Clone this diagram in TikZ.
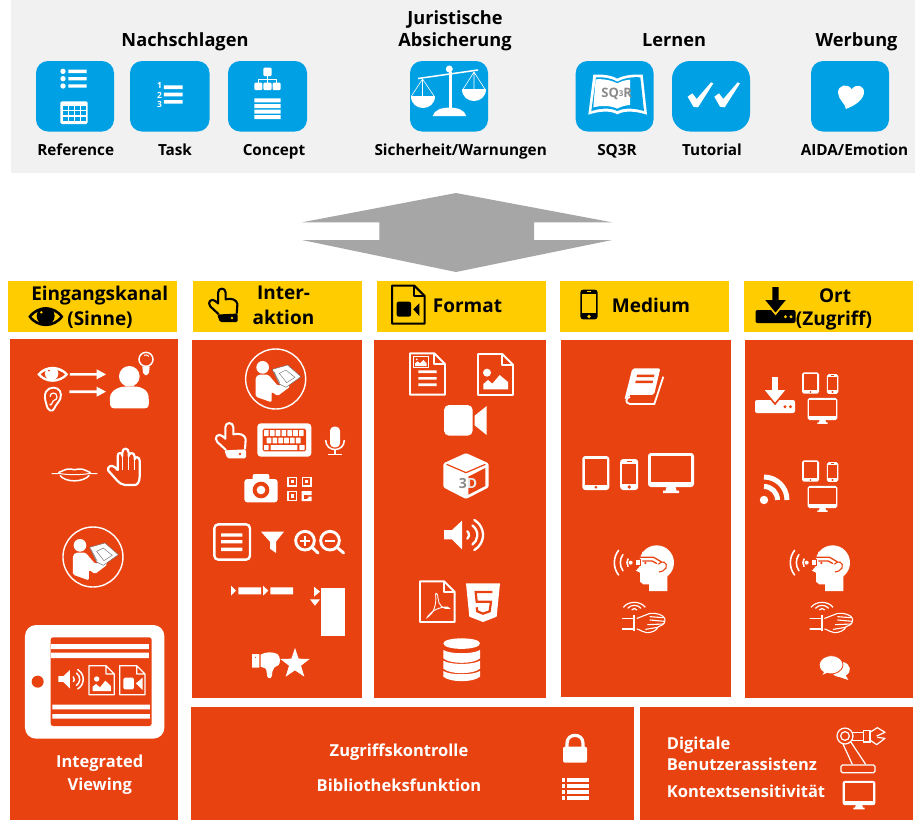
\documentclass[tikz,border=0pt]{standalone}
\usepackage{fontspec}
\setmainfont{Open Sans}
\definecolor{orangeb}{HTML}{E84211}
\definecolor{yellowh}{HTML}{FFCC00}
\definecolor{blueb}{HTML}{00A1E4}
\definecolor{grayb}{HTML}{F1F1F1}
\definecolor{grayarrow}{HTML}{A6A6A6}
\definecolor{graytxt}{HTML}{8A8A8A}
\colorlet{icfg}{white}
\colorlet{icbg}{orangeb}
\tikzset{
  lbl/.style={inner sep=0pt,anchor=base,font=\fontsize{15.3}{15.3}\selectfont\bfseries,text=black},
  ttl/.style={lbl,font=\fontsize{18.2}{18.2}\selectfont\bfseries},
  hdr/.style={lbl,font=\fontsize{19}{19}\selectfont\bfseries},
  wht/.style={lbl,font=\fontsize{16.5}{16.5}\selectfont\bfseries,text=white},
  panel/.style={fill=orangeb},
  hbar/.style={fill=yellowh},
  bluebox/.style={fill=blueb,rounded corners=#1},
  fg/.style={fill=icfg},
  bg/.style={fill=icbg},
  ln/.style={draw=icfg,line width=#1,fill=none},
  bl/.style={draw=icbg,line width=#1,fill=none},
}
\newcommand{\zb}[3][1]{\begin{scope}[shift={(#2,#3)},scale=#1/3]}
\newcommand{\ze}{\end{scope}}
% devices, local px about the centre
\newcommand{\icPhone}[3]{\begin{scope}[shift={(#1,#2)},scale=#3]
 \fill[fg,rounded corners=#3*3pt] (-9,-15.5) rectangle (9,15.5);
 \fill[bg] (-6.8,-11) rectangle (6.8,9);
 \fill[bg] (0,12.5) circle (1.9);
 \fill[bg] (-2.5,-13.6) rectangle (2.5,-12.8);
\end{scope}}
\newcommand{\icTablet}[3]{\begin{scope}[shift={(#1,#2)},scale=#3]
 \fill[fg,rounded corners=#3*3pt] (-13.5,-17) rectangle (13.5,17);
 \fill[bg] (-11,-14.2) rectangle (11,11.5);
 \fill[bg] (0,14.2) circle (1.5);
\end{scope}}
\newcommand{\icMon}[3]{\begin{scope}[shift={(#1,#2)},scale=#3]
 \fill[fg,rounded corners=#3*3pt] (-23,-17) rectangle (23,17);
 \fill[bg] (-20.2,-14.2) rectangle (20.2,11.5);
 \fill[fg] (-4.5,17) -- (4.5,17) -- (5.5,20.5) -- (8,20.5) -- (8,23) -- (-8,23) -- (-8,20.5) -- (-5.5,20.5) -- cycle;
\end{scope}}
\newcommand{\icTray}[2]{\begin{scope}[shift={(#1,#2)}]
 \fill[fg,rounded corners=2pt] (-20,5.5) rectangle (20,18.5);
 \filldraw[fill=icfg,draw=icbg,line width=1.6pt,line join=miter] (-4,-18.5) -- (4,-18.5) -- (4,-5.5) -- (12.3,-5.5) -- (0,9.5) -- (-12.3,-5.5) -- (-4,-5.5) -- cycle;
 \fill[bg] (10,12.2) circle (1.6) (15.5,12.2) circle (1.6);
\end{scope}}
\newcommand{\icDoc}[4]{%
 \draw[ln=1.9pt,line join=round] (#1,#2) -- ({#3-32},#2) -- (#3,{#2+32}) -- (#3,#4) -- (#1,#4) -- cycle;
 \draw[ln=1.9pt,line join=round] ({#3-32},#2) -- ({#3-32},{#2+32}) -- (#3,{#2+32});}
\newcommand{\icSpeaker}[4][2.3pt]{\zb[#2]{#3}{#4}
 \fill[fg] (222,750) -- (246,750) -- (276,722) -- (276,808) -- (246,778) -- (222,778) -- cycle;
 \draw[ln=#1,line cap=round] ([shift={(-48:15)}]282,765) arc[start angle=-48,end angle=48,radius=15];
 \draw[ln=#1,line cap=round] ([shift={(-55:35)}]287,765) arc[start angle=-55,end angle=55,radius=35];
 \draw[ln=#1,line cap=round] ([shift={(-60:52)}]287,765) arc[start angle=-60,end angle=60,radius=52];
\ze}
\newcommand{\icReader}[2]{\zb{#1}{#2}
 \draw[ln=1.4pt] (257,297) circle (90);
 \fill[fg] (218,262) circle (19);
 \fill[fg,rounded corners=1.5pt] (197,292) -- (205,284) -- (235,284) -- (264,318) -- (292,305) -- (300,320) -- (263,348) -- (245,335) -- (245,367) -- (197,350) -- cycle;
 \filldraw[fill=icfg,draw=black!60,line width=.4pt] (247,268) -- (293,255) -- (333,290) -- (288,322) -- (268,312) -- cycle;
 \draw[draw=black!60,line width=.4pt] (268,280) -- (288,270) -- (315,292) -- (290,308) -- cycle (252,275) -- (270,310);
\ze}
\newcommand{\icHead}[2]{\zb{#1}{#2}
 \fill[fg] (305,848) circle (52);
 \fill[fg] (262,815) -- (258,855) -- (243,872) -- (255,878) -- (255,905) -- (265,913) -- (282,913) -- (282,933) -- (337,933) -- (337,880) -- (340,848) -- cycle;
 \draw[bl=1.3pt,line join=round] (252,832) -- (296,832) -- (320,846);
 \draw[bl=1.3pt,line join=round] (262,843) -- (292,843) -- (306,851);
 \filldraw[fill=icfg,draw=icbg,line width=.8pt] (240,838) rectangle (257,856);
 \fill[bg] (271,849) circle (4);
 \draw[bl=1.1pt] (310,853) .. controls (320,838) and (340,848) .. (333,864) .. controls (328,873) and (320,875) .. (312,876);
 \fill[fg] (227,848) circle (6);
 \draw[ln=1.6pt,line cap=round] ([shift={(150:22)}]238,848) arc[start angle=150,end angle=210,radius=22];
 \draw[ln=1.6pt,line cap=round] ([shift={(145:42)}]238,848) arc[start angle=145,end angle=215,radius=42];
 \draw[ln=1.6pt,line cap=round] ([shift={(142:60)}]238,848) arc[start angle=142,end angle=218,radius=60];
\ze}
\newcommand{\icWrist}[2]{\zb{#1}{#2}
 \begin{scope}[ln=1.1pt,line cap=round,line join=round]
 \draw (202,1015) -- (238,1015) (202,1047) -- (238,1047);
 \draw (246,1015) -- (285,1000) .. controls (305,998) and (325,1005) .. (329,1015) .. controls (332,1025) and (328,1035) .. (310,1040) .. controls (305,1052) and (290,1058) .. (275,1058) .. controls (265,1058) and (258,1050) .. (246,1047);
 \draw (285,1010) -- (325,1013) (285,1020) -- (329,1024) (278,1034) -- (325,1032) (272,1048) -- (308,1042);
 \end{scope}
 \draw[ln=2pt] (238,1005) -- (238,1052);
 \draw[ln=1.2pt] (230,990) .. controls (234,984) and (242,984) .. (246,990);
 \draw[ln=1.2pt] (218,985) .. controls (228,973) and (248,973) .. (258,985);
 \draw[ln=1.2pt] (205,982) .. controls (220,962) and (256,962) .. (271,982);
\ze}
\newcommand{\icPoint}[3][1]{\zb[#1]{#2}{#3}
 \draw[ln=2.1pt,line join=round] (108,510) -- (82,486) .. controls (70,472) and (85,458) .. (97,468) -- (106,476) -- (106,442) .. controls (106,425) and (130,425) .. (130,442) -- (130,463) .. controls (150,458) and (165,465) .. (167,478) -- (165,508);
 \fill[fg,rounded corners=1.5pt] (103,511) -- (168,508) -- (168,535) -- (112,535) -- cycle;
 \fill[bg] (150,522) circle (4);
\ze}
\begin{document}
\begin{tikzpicture}[x=1pt,y=-1pt]
\useasboundingbox (0,0) rectangle (915,820);
\fill[white] (0,0) rectangle (915,820);
% top band
\fill[grayb] (11,0) rectangle (915,173);
\foreach \a/\b/\r in {36/114/12pt,130/209.5/12pt,228/307/12pt,410/488/12pt,575.7/653.5/12pt,672/750/18pt,811/889/12pt}
  \fill[bluebox=\r] (\a,61) rectangle (\b,131.5);
\node[ttl] (tNach) at (185,46.5) {Nachschlagen};
\node[ttl] (tJur1) at (455,24.5) {Juristische};
\node[ttl] (tJur2) at (455,46.5) {Absicherung};
\node[ttl] (tLern) at (674,46.5) {Lernen};
\node[ttl] (tWerb) at (856.5,46.5) {Werbung};
\node[lbl] (lRef) at (75.7,155) {Reference};
\node[lbl] (lTask) at (175,155) {Task};
\node[lbl] (lConc) at (274,155) {Concept};
\node[lbl] (lSich) at (460.7,155) {Sicherheit/Warnungen};
\node[lbl] (lSq) at (617,155) {SQ3R};
\node[lbl] (lTut) at (712,155) {Tutorial};
\node[lbl] (lAida) at (854.5,155) {AIDA/Emotion};
% Reference icon
\zb{0}{0}
 \fill[white] (189,214) circle (8) (189,236) circle (8) (189,258) circle (8);
 \fill[white] (205,209) rectangle (260,219) (205,231) rectangle (260,241) (205,253) rectangle (260,263);
 \fill[white,rounded corners=1.5pt] (181,304) rectangle (263,372);
 \foreach \i in {0,1,2,3} \foreach \j in {0,1,2} \fill[blueb] ({188+\i*18.5},{317+\j*17}) rectangle ({203+\i*18.5},{329+\j*17});
% Task icon
 \fill[white] (492,256) rectangle (548,267) (492,278) rectangle (548,289) (492,300) rectangle (548,311);
 \node[inner sep=0pt,text=white,font=\fontsize{8.5}{8.5}\selectfont\bfseries] (n1) at (479,257) {1};
 \node[inner sep=0pt,text=white,font=\fontsize{8.5}{8.5}\selectfont\bfseries] (n2) at (479,285) {2};
 \node[inner sep=0pt,text=white,font=\fontsize{8.5}{8.5}\selectfont\bfseries] (n3) at (479,312) {3};
% Concept icon
 \fill[white,rounded corners=1pt] (790,203) rectangle (815,228) (763,248) rectangle (787,270) (790,248) rectangle (815,270) (818,248) rectangle (842,270);
 \draw[white,line width=.9pt] (802,228) -- (802,240) (775,250) -- (775,238) -- (830,238) -- (830,250) (802,240) -- (802,250);
 \fill[white] (763,295) rectangle (842,307) (763,312) rectangle (842,324) (763,329) rectangle (842,341) (763,345) rectangle (842,357);
\ze
% scales
\begin{scope}
 \fill[white] (449.3,69) circle (3.5);
 \fill[white] (449,72) rectangle (452,109);
 \draw[white,line width=1.5pt] (418,78.5) -- (478,70);
 \fill[white] (432.7,116) .. controls (434,110) and (442,107.5) .. (449.5,107.5) .. controls (457,107.5) and (465,110) .. (466.2,116) -- cycle;
 \fill[white] (410.7,96) .. controls (410.7,112) and (434.7,112) .. (434.7,96) -- cycle;
 \fill[white] (462,89.3) .. controls (462,105.3) and (486,105.3) .. (486,89.3) -- cycle;
 \draw[white,line width=.6pt] (411.5,96) -- (422.5,79) -- (434,96) (422.5,79) -- (422.5,96) (463,89.3) -- (474,72) -- (485,89.3) (474,72) -- (474,89.3);
\end{scope}
% SQ3R, Tutorial, heart
\zb{455}{0}
 \fill[white] (415,224) .. controls (440,222) and (470,226) .. (487,236) .. controls (505,226) and (535,222) .. (563,224) -- (576,344) .. controls (545,334) and (510,330) .. (487,343) .. controls (465,330) and (430,334) .. (400,344) -- cycle;
 \fill[blueb] (423,232) .. controls (445,230) and (470,235) .. (487,245) .. controls (505,235) and (530,230) .. (556,232) -- (567,333) .. controls (540,325) and (510,322) .. (487,333) .. controls (465,322) and (435,325) .. (409,333) -- cycle;
 \fill[white] (422,238) .. controls (445,236) and (470,241) .. (487,250) .. controls (500,243) and (512,240) .. (525,239) -- (525,315) .. controls (510,316) and (497,320) .. (487,326) .. controls (465,316) and (440,316) .. (415,322) -- cycle;
 \node[inner sep=0pt,text=graytxt,font=\fontsize{13}{13}\selectfont\bfseries] (sqtxt) at (485,283) {SQ\raisebox{.25ex}{\fontsize{8}{8}\selectfont 3}R};
 \foreach \d in {0,80}
  \fill[white] ({698+\d},290) -- ({712+\d},280) -- ({725+\d},297) -- ({768+\d},247) -- ({775+\d},250) -- ({729+\d},322) -- ({715+\d},320) -- cycle;
 \fill[white] (1172,324) .. controls (1172,312) and (1150,300) .. (1149,278) .. controls (1149,255) and (1178,248) .. (1190,268) .. controls (1203,250) and (1228,255) .. (1227,278) .. controls (1225,300) and (1198,318) .. (1172,327) -- cycle;
\ze
% arrow
\fill[grayarrow] (302,222.3) -- (456,193) -- (612,222.3) -- (534,222.3) -- (534,240) -- (612,240) -- (456,272) -- (302,240) -- (379.3,240) -- (379.3,222.3) -- cycle;
% header bars
\fill[hbar] (8,281) rectangle (177,332);
\fill[hbar] (193.3,281) rectangle (362,332);
\fill[hbar] (377,281) rectangle (545.7,332);
\fill[hbar] (560,281) rectangle (729,332);
\fill[hbar] (744,281) rectangle (912.7,332);
\node[hdr] (hEin) at (99.7,300) {Eingangskanal};
\node[hdr] (hSin) at (100,325) {(Sinne)};
\node[hdr] (hInt1) at (283.5,299) {Inter-};
\node[hdr] (hInt2) at (283.5,324) {aktion};
\node[hdr] (hFor) at (467.5,312) {Format};
\node[hdr] (hMed) at (651,312) {Medium};
\node[hdr] (hOrt) at (835,302) {Ort};
\node[hdr] (hZug) at (834,325) {(Zugriff)};
% header icons (black on yellow)
\begin{scope}
 \colorlet{icfg}{black}\colorlet{icbg}{yellowh}
 \zb{0}{280}
  \fill[black] (85,110) .. controls (110,72) and (165,72) .. (190,110) .. controls (165,148) and (110,148) .. (85,110) -- cycle;
  \fill[yellowh] (95,110) .. controls (115,84) and (160,84) .. (180,110) .. controls (160,136) and (115,136) .. (95,110) -- cycle;
  \fill[black] (137,108) circle (27);
  \fill[yellowh] (124,97) circle (4);
 \ze
 \icPoint[.95]{184.5}{152.7}
 \zb{370}{280}
  \draw[black,line width=2pt,line join=round] (66,17) -- (133,17) -- (164,48) -- (164,131) -- (66,131) -- cycle;
  \draw[black,line width=2pt,line join=round] (133,17) -- (133,48) -- (164,48);
  \fill[black,rounded corners=2pt] (80,65) rectangle (123,110);
  \fill[black] (130,88) -- (148,70) -- (148,108) -- cycle;
 \ze
 \icPhone{589}{304.5}{.96}
 \icTray{775.5}{304.5}
\end{scope}
% panels
\fill[panel] (9.5,339) rectangle (178,820);
\fill[panel] (192,340) rectangle (362,697.5);
\fill[panel] (374,340) rectangle (545.7,697.5);
\fill[panel] (560.5,340) rectangle (731,697);
\fill[panel] (744.7,340) rectangle (913,697.5);
\fill[panel] (191,707) rectangle (633.5,820);
\fill[panel] (639.7,707) rectangle (913,820);
% column 1
\zb{0}{280}
 \fill[white] (112,283) .. controls (135,253) and (180,253) .. (205,283) .. controls (180,313) and (135,313) .. (112,283) -- cycle;
 \fill[orangeb] (122,283) .. controls (140,264) and (175,264) .. (195,283) .. controls (175,303) and (140,303) .. (122,283) -- cycle;
 \fill[white] (155,281) circle (20);
 \fill[orangeb] (147,272) circle (3);
 \fill[white] (210,279) rectangle (292,287) (208,331) rectangle (292,339);
 \fill[white] (290,268) -- (318,283) -- (290,298) -- cycle (290,320) -- (318,335) -- (290,350) -- cycle;
 \draw[white,line width=1.9pt] (139,372) .. controls (128,340) and (140,323) .. (160,323) .. controls (178,323) and (187,338) .. (181,356) .. controls (176,368) and (168,372) .. (163,385) .. controls (158,397) and (143,395) .. (139,372);
 \draw[white,line width=1.2pt] (150,350) .. controls (150,335) and (172,335) .. (171,352) .. controls (170,362) and (158,358) .. (156,370) .. controls (155,376) and (150,376) .. (149,372);
 \fill[white] (388,289) circle (31);
 \fill[white] (342,385) .. controls (328,385) and (330,370) .. (330,352) .. controls (332,328) and (365,316) .. (388,320) .. controls (420,316) and (445,328) .. (446,352) .. controls (447,372) and (449,385) .. (434,385) -- cycle;
 \draw[white,line width=1.5pt] (438,238) circle (21);
 \fill[white] (427,260) -- (449,260) -- (447,278) -- (441,285) -- (435,285) -- (429,278) -- cycle;
 \draw[white,line width=1pt] (432,226) .. controls (436,224) and (442,224) .. (447,229);
 \draw[white,line width=1pt] (155,581) -- (182,581) .. controls (205,585) and (240,585) .. (265,581) -- (292,581);
 \draw[white,line width=1.5pt] (175,578) .. controls (190,572) and (200,565) .. (212,567) .. controls (220,570) and (228,570) .. (235,567) .. controls (248,565) and (258,572) .. (272,578);
 \draw[white,line width=1.5pt] (180,586) .. controls (195,608) and (250,608) .. (268,586);
 \draw[white,line width=2.2pt,line join=round] (350,600) -- (325,572) .. controls (320,560) and (335,552) .. (345,562) -- (353,570) -- (353,528) .. controls (353,516) and (367,516) .. (367,528) -- (367,518) .. controls (367,502) and (386,502) .. (386,518) -- (386,528) .. controls (386,516) and (404,516) .. (404,530) -- (404,538) .. controls (404,528) and (419,530) .. (419,542) -- (419,590) .. controls (419,605) and (412,615) .. (405,615) -- (375,615) .. controls (365,615) and (358,608) .. (350,600);
 \draw[white,line width=1.2pt] (367,530) -- (367,570) (386,528) -- (386,570) (404,535) -- (404,570);
\ze
\icReader{7.3}{458}
\zb{0}{610}
 \fill[white,rounded corners=11pt] (75,45) rectangle (493,386);
 \fill[orangeb,rounded corners=2.5pt] (152,82) rectangle (455,348);
 \fill[orangeb] (113,215) circle (18);
 \fill[white] (153,102) rectangle (447,117) (153,128) rectangle (447,144) (157,284) rectangle (450,298) (157,312) rectangle (450,326);
 \begin{scope}
  \draw[white,line width=1.2pt,line join=round] (267,167) -- (318,167) -- (343,192) -- (343,254) -- (267,254) -- cycle (318,167) -- (318,192) -- (343,192);
  \draw[white,line width=1.2pt,line join=round] (359,167) -- (410,167) -- (435,192) -- (435,254) -- (359,254) -- cycle (410,167) -- (410,192) -- (435,192);
  \fill[white] (290,207) circle (8);
  \fill[white] (278,243) -- (278,230) -- (288,222) -- (300,232) -- (316,212) -- (333,228) -- (333,243) -- cycle;
  \fill[white,rounded corners=1.5pt] (370,203) rectangle (402,238);
  \fill[white] (408,220) -- (428,203) -- (428,240) -- cycle;
 \end{scope}
\ze
\icSpeaker[1.5pt]{.64}{11}{516}
\node[wht] (wInt) at (99.7,767.7) {Integrated};
\node[wht] (wVie) at (99.8,790) {Viewing};
% column 2
\icReader{190}{280}
\icPoint{190}{280}
\zb{190}{280}
 \fill[white,rounded corners=3.5pt] (202,430) rectangle (364,530);
 \fill[orangeb,rounded corners=1.5pt] (218,446) rectangle (348,514);
 \foreach \i in {0,...,6} \fill[white,rounded corners=.5pt] ({222+\i*17.5},450) rectangle ({236+\i*17.5},468);
 \foreach \i in {0,...,5} \fill[white,rounded corners=.5pt] ({230+\i*17.5},473) rectangle ({244+\i*17.5},490);
 \fill[white,rounded corners=.5pt] (222,495) rectangle (236,510) (242,495) rectangle (322,510) (328,495) rectangle (344,510);
 \fill[white,rounded corners=4pt] (420,440) rectangle (450,502);
 \draw[white,line width=1.5pt] (407,480) .. controls (407,518) and (463,518) .. (463,480);
 \draw[white,line width=1.5pt] (435,510) -- (435,522);
 \draw[white,line width=1.5pt] (415,523) -- (455,523);
 % camera
 \fill[white,rounded corners=3pt] (163,597) rectangle (263,667);
 \fill[white,rounded corners=2pt] (188,582) rectangle (238,605);
 \fill[orangeb] (213,630) circle (25);
 \fill[white] (213,630) circle (13);
 % QR
 \foreach \p/\q in {292/590,335/590,292/633} {
  \draw[white,line width=1.3pt] ({\p+2},{\q+2}) rectangle ({\p+28},{\q+28});
  \fill[white] ({\p+10},{\q+10}) rectangle ({\p+20},{\q+20});}
 \fill[white] (335,633) rectangle (350,663) (350,633) rectangle (365,645) (355,650) rectangle (365,656) (345,655) rectangle (365,663);
 \fill[orangeb] (343,645) rectangle (350,656);
 % list box
 \draw[white,line width=2.4pt,rounded corners=4pt] (73,733) rectangle (180,839);
 \fill[white] (93,760) rectangle (157,770) (93,780) rectangle (157,790) (93,803) rectangle (157,813);
 % filter
 \fill[white] (213,755) -- (282,755) -- (258,785) -- (258,819) -- (240,806) -- (240,785) -- cycle;
 % zoom
 \draw[white,line width=2.9pt] (345,782) circle (28);
 \draw[white,line width=2.9pt,line cap=round] (366,802) -- (384,819);
 \draw[white,line width=1.8pt] (330,782) -- (360,782) (345,767) -- (345,797);
 \draw[white,line width=2.9pt] (420,782) circle (28);
 \draw[white,line width=2.9pt,line cap=round] (441,802) -- (461,819);
 \draw[white,line width=1.8pt] (405,782) -- (435,782);
 % chain
 \fill[white] (123,917) -- (138,932) -- (123,947) -- cycle (219,917) -- (235,932) -- (219,947) -- cycle;
 \fill[white] (145,922) rectangle (213,943) (241,922) rectangle (309,943);
 \fill[white] (372,920) -- (390,935) -- (372,950) -- cycle (360,958) -- (390,958) -- (375,977) -- cycle;
 \fill[white] (394,925) rectangle (464,1069);
 % thumbs down
 \fill[white,rounded corners=.5pt] (186,1122) rectangle (208,1163);
 \fill[orangeb] (197,1132) circle (2);
 \fill[white] (212,1124) .. controls (225,1115) and (250,1115) .. (262,1122) .. controls (272,1130) and (272,1150) .. (265,1156) .. controls (255,1160) and (248,1165) .. (247,1175) .. controls (248,1195) and (238,1200) .. (232,1190) .. controls (228,1180) and (232,1170) .. (226,1165) -- (212,1160) -- cycle;
 \fill[white] (315,1104) -- (326,1136) -- (359,1137) -- (333,1157) -- (343,1190) -- (315,1171) -- (287,1190) -- (297,1157) -- (271,1137) -- (304,1136) -- cycle;
\ze
% column 3
\icSpeaker{1}{370}{280}
\zb{370}{280}
 \icDoc{120}{220}{225}{344}
 \draw[white,line width=.9pt] (131,229) rectangle (174,262);
 \fill[white] (135,258) -- (135,250) -- (143,244) -- (150,250) -- (160,240) -- (170,250) -- (170,258) -- cycle;
 \fill[white] (140,238) circle (3);
 \fill[white] (145,271) rectangle (200,279) (145,291) rectangle (200,299) (145,310) rectangle (200,318);
 \icDoc{324}{222}{429}{345}
 \fill[white] (351,278) circle (12);
 \fill[white] (340,328) -- (340,312) -- (354,300) -- (367,311) -- (389,285) -- (414,306) -- (414,328) -- cycle;
 \fill[white,rounded corners=5pt] (222,375) rectangle (308,467);
 \fill[white] (314,407) -- (350,378) -- (350,465) -- (314,436) -- cycle;
 \fill[white,rounded corners=1.5pt] (288,519) -- (356,550) -- (356,622) -- (288,657) -- (220,622) -- (220,550) -- cycle;
 \fill[orangeb] (295,590) -- (346,564) -- (346,618) -- (295,644) -- cycle;
 \draw[orangeb,line width=1.2pt] (230,553) -- (288,578) -- (346,553);
 \node[inner sep=0pt,font=\fontsize{14}{14}\selectfont\bfseries] (t3d) at (294,610) {\textcolor{graytxt}{3}\textcolor{white!80!graytxt}{D}};
 \icDoc{150}{904}{254}{1026}
 \draw[white,line width=.9pt] (175,1010) .. controls (190,1000) and (200,975) .. (197,945) .. controls (195,935) and (205,940) .. (204,955) .. controls (205,975) and (220,990) .. (238,985) .. controls (235,978) and (215,980) .. (195,990) .. controls (180,997) and (165,1020) .. (175,1010);
 \fill[white] (288,910) -- (390,910) -- (380,1010) -- (339,1026) -- (298,1010) -- cycle;
 \draw[orangeb,line width=2.2pt,line join=miter] (367,936) -- (317,936) -- (320,965) -- (363,965) -- (359,994) -- (339,1001) -- (322,994) -- (320,982);
 % database
 \fill[white] (220,1090) .. controls (220,1070) and (330,1070) .. (330,1090) .. controls (330,1112) and (220,1112) .. (220,1090) -- cycle;
 \foreach \t/\b in {1110/1135,1142/1166,1173/1190}
  \fill[white] (220,\t) .. controls (240,{\t+13}) and (310,{\t+13}) .. (330,\t) -- (330,\b) .. controls (310,{\b+18}) and (240,{\b+18}) .. (220,\b) -- cycle;
\ze
% column 4
\icTablet{595.8}{473}{1}
\icPhone{629.2}{474.5}{1}
\icMon{671}{470}{1}
\zb{555}{280}
 \fill[white,rounded corners=2pt] (232,265) -- (316,265) -- (297,345) -- (224,345) -- (208,360) -- cycle;
 \fill[orangeb] (246,284) -- (298,284) -- (297,291) -- (245,291) -- cycle (242,302) -- (294,302) -- (293,309) -- (241,309) -- cycle;
 \draw[white,line width=1.8pt] (225,351) .. controls (213,351) and (208,370) .. (225,372) -- (298,372) -- (325,290);
 \draw[orangeb,line width=.8pt] (224,346) -- (297,346);
\ze
\icHead{555}{280}
\icWrist{555}{280}
% column 5
\icTray{775}{394.5}
\icTablet{810.5}{383}{.63}
\icPhone{832.5}{384}{.64}
\icMon{822.5}{409}{.65}
\icTablet{810.5}{471}{.63}
\icPhone{832.5}{472}{.64}
\icMon{822.5}{497}{.65}
\fill[white] (764,500) circle (4.2);
\draw[ln=5pt] (764,486.5) arc[start angle=-90,end angle=0,radius=13.5];
\draw[ln=5pt] (764,477) arc[start angle=-90,end angle=0,radius=23];
\icHead{731}{280}
\icWrist{742.7}{280}
\zb{555}{280}
 \fill[white] (863,1146) .. controls (888,1150) and (892,1178) .. (872,1186) -- (880,1200) -- (853,1191) .. controls (845,1190) and (840,1188) .. (835,1184) -- cycle;
 \filldraw[fill=white,draw=orangeb,line width=.8pt] (805,1177) .. controls (780,1160) and (795,1127) .. (829,1127) .. controls (862,1127) and (878,1160) .. (848,1177) .. controls (838,1182) and (825,1183) .. (817,1180) -- (797,1188) -- cycle;
\ze
% bottom panels
\node[wht] (wZug) at (399,756) {Zugriffskontrolle};
\node[wht] (wBib) at (399,791.7) {Bibliotheksfunktion};
\node[wht,anchor=base west] (wDig) at (666.7,749) {Digitale};
\node[wht,anchor=base west] (wBen) at (666.7,770) {Benutzerassistenz};
\node[wht,anchor=base west] (wKon) at (666.7,797.7) {Kontextsensitivität};
\zb{540}{700}
 \fill[white,rounded corners=2pt] (69,140) rectangle (141,188);
 \draw[white,line width=3.2pt] (81,142) -- (81,130) .. controls (81,98) and (129,98) .. (129,130) -- (129,142);
 \foreach \y in {235,252,270,288} {
  \fill[white] (65,\y) rectangle (76,{\y+12});
  \fill[white] (80,\y) rectangle (148,{\y+12});}
 % robot
 \draw[white,line width=1.2pt,rounded corners=1.5pt] (903,195) rectangle (1005,218);
 \draw[white,line width=1.2pt] (915,108) circle (24) (915,108) circle (13);
 \draw[white,line width=1.2pt,line join=round] (908,130) -- (937,193) (932,125) -- (977,193);
 \draw[white,line width=1.2pt] (937,97) rectangle (970,121) (970,92) rectangle (990,126);
 \draw[white,line width=1.2pt,line join=round] (990,97) -- (1012,83) -- (1035,97) -- (1010,108) (990,120) -- (1010,134) -- (1035,115) -- (1012,112);
\ze
\icMon{859}{793}{.71}
\end{tikzpicture}
\end{document}
